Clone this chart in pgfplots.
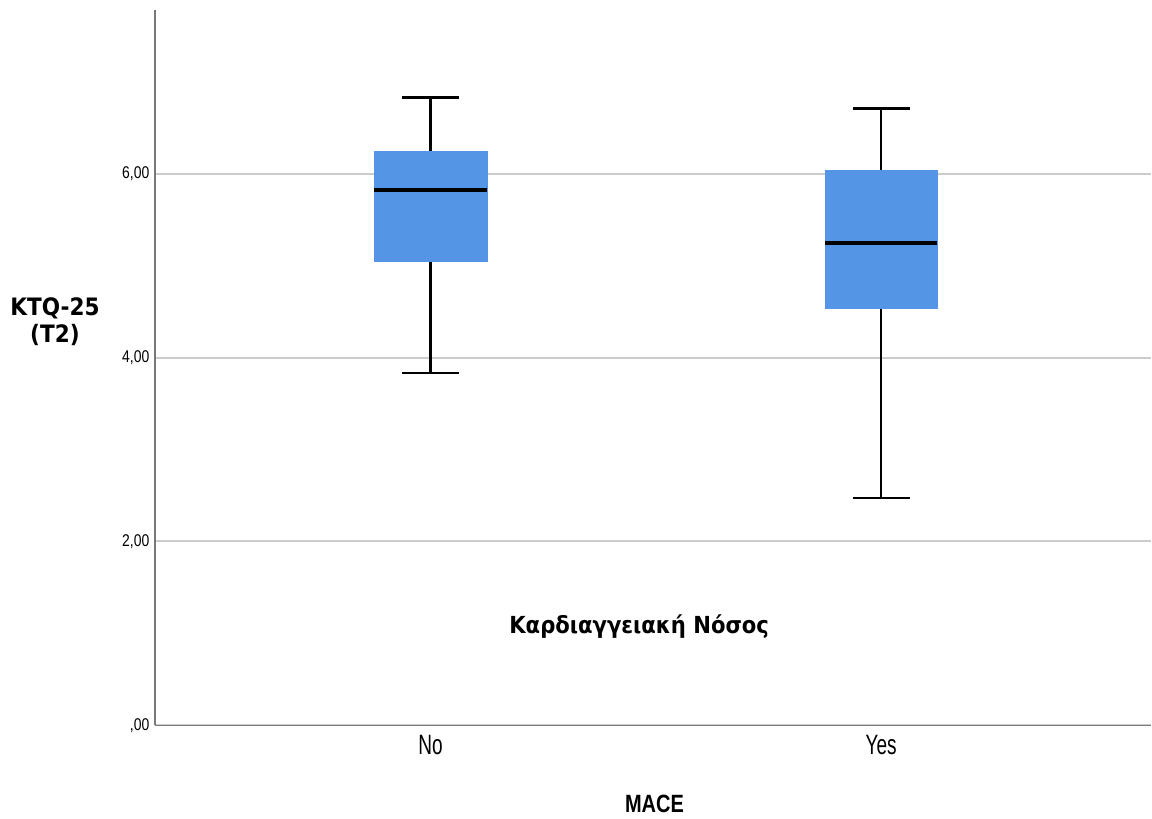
\documentclass[border=0pt]{standalone}
\usepackage{fontspec}
\usepackage{pgfplots}
\pgfplotsset{compat=1.18}
\usepgfplotslibrary{statistics}
\setmainfont{Liberation Sans}
\newfontfamily\tickfont[FakeStretch=0.82]{Liberation Sans}
\newfontfamily\catfont[FakeStretch=0.68]{Liberation Sans}
\newfontfamily\macefont[FakeStretch=0.8]{Liberation Sans}
\newfontfamily\grk{DejaVu Sans Condensed Bold}
\definecolor{boxblue}{RGB}{85,149,229}
\definecolor{gridgray}{RGB}{204,204,204}
\definecolor{axgray}{RGB}{120,120,120}
\begin{document}
\begin{tikzpicture}
\path (-155pt,-93pt) rectangle (997pt,726pt);
\begin{axis}[
  at={(0pt,0pt)}, anchor=south west,
  scale only axis, width=997pt, height=716pt,
  xmin=-0.612, xmax=1.599, ymin=0, ymax=7.78,
  axis x line*=bottom, axis y line*=left,
  axis line style={draw=axgray, line width=1.5pt, -},
  major tick length=0pt,
  xtick={0,1}, xticklabels={No,Yes},
  ytick={0,2,4,6}, yticklabels={{,00},{2,00},{4,00},{6,00}},
  xticklabel style={font=\catfont\fontsize{28}{28}\selectfont, yshift=-6pt},
  yticklabel style={font=\tickfont\fontsize{17}{17}\selectfont, xshift=-2pt},
  ymajorgrids, grid style={draw=gridgray, line width=2pt},
  boxplot/draw direction=y,
]
\addplot+[black, solid, mark=none,
  boxplot prepared={lower whisker=3.83, lower quartile=5.05, median=5.82,
    upper quartile=6.24, upper whisker=6.83},
  boxplot/draw position=0, boxplot/box extend=0.25, boxplot/whisker extend=0.126,
  boxplot/every box/.style={fill=boxblue, draw=boxblue, line width=0.5pt},
  boxplot/every whisker/.style={black, line width=2.5pt},
  boxplot/every median/.style={black, line width=4pt}]
  coordinates {};
\addplot+[black, solid, mark=none,
  boxplot prepared={lower whisker=2.47, lower quartile=4.54, median=5.25,
    upper quartile=6.04, upper whisker=6.71},
  boxplot/draw position=1, boxplot/box extend=0.25, boxplot/whisker extend=0.126,
  boxplot/every box/.style={fill=boxblue, draw=boxblue, line width=0.5pt},
  boxplot/every whisker/.style={black, line width=2.5pt},
  boxplot/every median/.style={black, line width=4pt}]
  coordinates {};
\node[font=\grk\fontsize{23.5}{23.5}\selectfont] at (axis cs:0.463,1.07) {Καρδιαγγειακή Νόσος};
\end{axis}
\node[font=\grk\fontsize{24}{27}\selectfont, align=center] at (-100pt,404pt) {KTQ-25\\(T2)};
\node[font=\macefont\bfseries\fontsize{25}{25}\selectfont] at (500pt,-79pt) {MACE};
\end{tikzpicture}
\end{document}
